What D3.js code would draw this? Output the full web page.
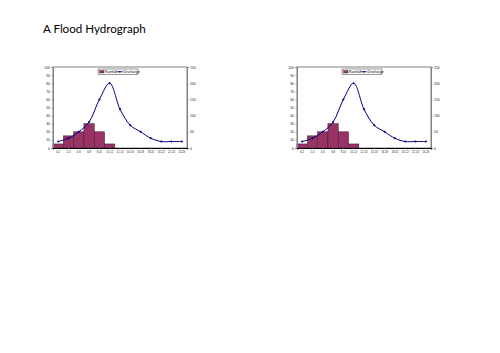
<!DOCTYPE html>
<html><head><meta charset="utf-8">
<script src="https://cdn.jsdelivr.net/npm/d3@7/dist/d3.min.js"></script>
<style>body{margin:0;background:#fff}svg{display:block}</style>
</head><body>
<svg id="c" width="500" height="353"></svg>
<script>
const categories = ["0-2","2-4","4-6","6-8","8-10","10-12","12-14","14-16","16-18","18-20","20-22","22-24","24-26"];
const rainfall = [5,15,20,30,20,5,null,null,null,null,null,null,null];
const discharge = [20,30,50,80,150,200,120,70,50,30,20,20,20];
const leftTicks = [0,10,20,30,40,50,60,70,80,90,100];
const rightTicks = [0,50,100,150,200,250];
const seriesNames = ["Rainfall","Discharge"];

const svg = d3.select("#c");
svg.append("text").attr("x",43).attr("y",33).attr("font-family","Lato, 'Open Sans', sans-serif")
  .attr("font-size",11.6).attr("fill","#000").text("A Flood Hydrograph");

function drawChart(ox){
  const left = ox, right = ox+134, top = 67, bottom = 148;
  const g = svg.append("g");
  const x = d3.scaleBand().domain(categories).range([left,right]).padding(0);
  const yL = d3.scaleLinear().domain([0,100]).range([bottom,top]);
  const yR = d3.scaleLinear().domain([0,250]).range([bottom,top]);
  g.append("rect").attr("x",left).attr("y",top).attr("width",right-left).attr("height",bottom-top)
    .attr("fill","#fff").attr("stroke","#808080").attr("stroke-width",1);
  g.selectAll("rect.bar").data(categories.map((c,i)=>({c,v:rainfall[i]})).filter(d=>d.v!=null))
    .enter().append("rect").attr("class","bar")
    .attr("x",d=>x(d.c)).attr("width",x.bandwidth())
    .attr("y",d=>yL(d.v)).attr("height",d=>bottom-yL(d.v))
    .attr("fill","#993366").attr("stroke","#3a1a2a").attr("stroke-width",0.5);
  const line = d3.line().x((d,i)=>x(categories[i])+x.bandwidth()/2).y(d=>yR(d)).curve(d3.curveCatmullRom);
  g.append("path").datum(discharge).attr("d",line).attr("fill","none").attr("stroke","#000080").attr("stroke-width",1);
  g.selectAll("rect.pt").data(discharge).enter().append("rect").attr("class","pt")
    .attr("x",(d,i)=>x(categories[i])+x.bandwidth()/2-0.9).attr("y",d=>yR(d)-0.9)
    .attr("width",1.8).attr("height",1.8).attr("fill","#000080").attr("transform",(d,i)=>`rotate(45 ${x(categories[i])+x.bandwidth()/2} ${yR(d)})`);
  const ff = "Liberation Sans, Arial, sans-serif";
  const ax1 = g.append("g").attr("transform",`translate(${left},0)`).call(d3.axisLeft(yL).tickValues(leftTicks).tickSize(2).tickPadding(1));
  const ax2 = g.append("g").attr("transform",`translate(${right},0)`).call(d3.axisRight(yR).tickValues(rightTicks).tickSize(2).tickPadding(1));
  const ax3 = g.append("g").attr("transform",`translate(0,${bottom})`).call(d3.axisBottom(x).tickSize(1.5).tickPadding(1.5));
  [ax1,ax2].forEach(a=>a.selectAll("text").attr("font-size",3.4));
  ax3.selectAll("text").attr("font-size",2.7);
  [ax1,ax2,ax3].forEach(a=>{
    a.selectAll("path.domain").attr("stroke","#808080");
    a.selectAll("line").attr("stroke","#808080").attr("stroke-width",0.5);
    a.selectAll("text").attr("font-family",ff).attr("fill","#222");
  });
  ax3.select("path.domain").attr("stroke","#000");
  const lx = left+45, ly = 69;
  const lg = g.append("g");
  lg.append("rect").attr("x",lx).attr("y",ly).attr("width",40).attr("height",5.5).attr("fill","#fff").attr("stroke","#000").attr("stroke-width",0.4);
  lg.append("rect").attr("x",lx+1.5).attr("y",ly+1.5).attr("width",4.5).attr("height",2.5).attr("fill","#993366").attr("stroke","#000").attr("stroke-width",0.3);
  lg.append("text").attr("x",lx+6.8).attr("y",ly+4.2).attr("font-size",3.6).attr("font-family",ff).text(seriesNames[0]);
  lg.append("line").attr("x1",lx+18.5).attr("x2",lx+25).attr("y1",ly+2.75).attr("y2",ly+2.75).attr("stroke","#000080").attr("stroke-width",0.8);
  lg.append("rect").attr("x",lx+21).attr("y",ly+2).attr("width",1.5).attr("height",1.5).attr("fill","#000080");
  lg.append("text").attr("x",lx+25.5).attr("y",ly+4.2).attr("font-size",3.6).attr("font-family",ff).text(seriesNames[1]);
}
drawChart(53);
drawChart(297);
</script>
</body></html>
